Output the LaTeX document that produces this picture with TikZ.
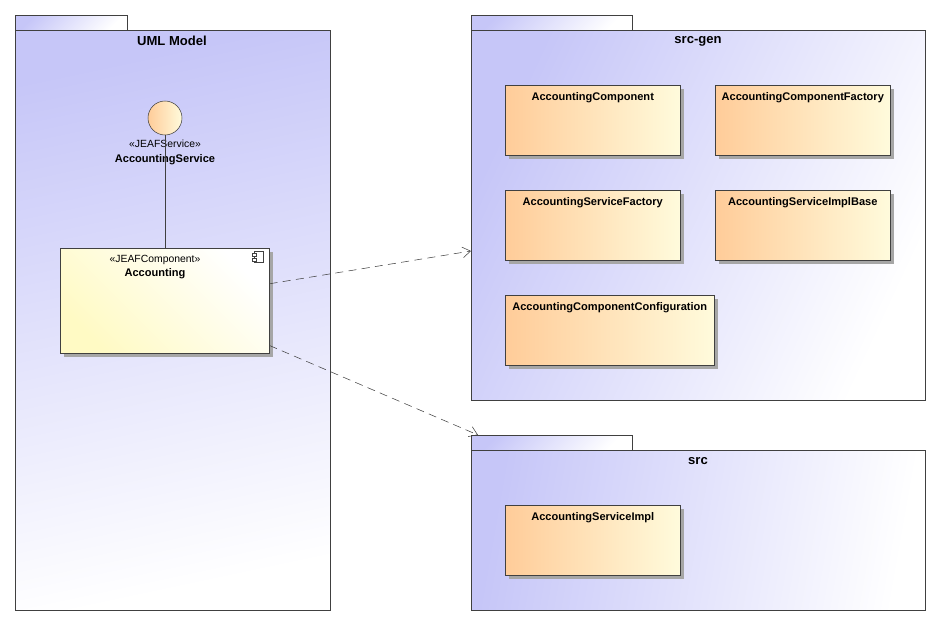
\documentclass[tikz,border=0pt]{standalone}
\usepackage{fontspec}
\setmainfont{Liberation Sans}
\usepackage{xcolor}
\usetikzlibrary{positioning,arrows.meta,shadows}
\definecolor{pkgblue}{HTML}{C6C6F8}
\definecolor{clsorange}{HTML}{FFCC99}
\definecolor{clsyellow}{HTML}{FFFBDC}
\definecolor{cmpyellow}{HTML}{FFFAC4}
\definecolor{edge}{HTML}{404040}
\tikzset{
  pkg/.style={draw=edge, anchor=north west, inner sep=0pt, top color=pkgblue, bottom color=white, shading angle=#1},
  pkg/.default=45,
  cls/.style={draw=edge, anchor=north west, inner sep=0pt, left color=clsorange, right color=clsyellow,
    drop shadow={shadow xshift=2.5pt, shadow yshift=-2.5pt, fill=gray!70, opacity=1}},
  clsname/.style={font=\bfseries\fontsize{8.3}{10}\selectfont, below=2pt of #1.north},
  title/.style={font=\bfseries\fontsize{9.8}{11}\selectfont},
  dep/.style={draw=edge, dashed, dash pattern=on 6pt off 4pt, -{Straight Barb[length=6pt,width=8pt]}},
}
\begin{document}
\begin{tikzpicture}[x=0.75pt, y=-0.75pt]
\useasboundingbox (0,0) rectangle (940,625);
% packages
\node[pkg, minimum width=112*0.75pt, minimum height=15*0.75pt] (tabUml) at (15,15) {};
\node[pkg=12, minimum width=315*0.75pt, minimum height=580*0.75pt] (pkgUml) at (15,30) {};
\node[title] at (172,41) {UML Model};
\node[pkg, minimum width=161*0.75pt, minimum height=15*0.75pt] (tabGen) at (471,15) {};
\node[pkg=65, minimum width=454*0.75pt, minimum height=370*0.75pt] (pkgGen) at (471,30) {};
\node[title] at (698,41) {src-gen};
\node[pkg, minimum width=161*0.75pt, minimum height=15*0.75pt] (tabSrc) at (471,435) {};
\node[pkg=80, minimum width=454*0.75pt, minimum height=160*0.75pt] (pkgSrc) at (471,450) {};
\node[title] at (698,461) {src};

% interface and component
\node[draw=edge, circle, left color=clsorange, right color=clsyellow, minimum size=34*0.75pt, inner sep=0pt] (svc) at (165,118) {};
\node[font=\fontsize{7.8}{9}\selectfont] (svcSt) at (165,144) {«JEAFService»};
\node[font=\bfseries\fontsize{8.3}{10}\selectfont] (svcName) at (165,160) {AccountingService};
\node[draw=edge, anchor=north west, inner sep=0pt, left color=cmpyellow, right color=white, shading angle=135,
  minimum width=209*0.75pt, minimum height=105*0.75pt,
  drop shadow={shadow xshift=2.5pt, shadow yshift=-2.5pt, fill=gray!70, opacity=1}] (comp) at (60,248) {};
\node[font=\fontsize{7.8}{9}\selectfont] at (155,260) {«JEAFComponent»};
\node[font=\bfseries\fontsize{8.3}{10}\selectfont] at (155,274) {Accounting};
\draw[edge, fill=white] (254,251) rectangle (263,262);
\draw[edge, fill=white] (252,253) rectangle (256,256);
\draw[edge, fill=white] (252,258) rectangle (256,261);
\draw[edge] (svc.south) -- (comp.north -| svc.south);

% classes
\node[cls, minimum width=175*0.75pt, minimum height=70*0.75pt] (cComp) at (505,85) {};
\node[clsname=cComp] {AccountingComponent};
\node[cls, minimum width=175*0.75pt, minimum height=70*0.75pt] (cFact) at (715,85) {};
\node[clsname=cFact] {AccountingComponentFactory};
\node[cls, minimum width=175*0.75pt, minimum height=70*0.75pt] (cSvcFact) at (505,190) {};
\node[clsname=cSvcFact] {AccountingServiceFactory};
\node[cls, minimum width=175*0.75pt, minimum height=70*0.75pt] (cBase) at (715,190) {};
\node[clsname=cBase] {AccountingServiceImplBase};
\node[cls, minimum width=209*0.75pt, minimum height=70*0.75pt] (cConf) at (505,295) {};
\node[clsname=cConf] {AccountingComponentConfiguration};
\node[cls, minimum width=175*0.75pt, minimum height=70*0.75pt] (cImpl) at (505,505) {};
\node[clsname=cImpl] {AccountingServiceImpl};

% dependencies
\coordinate (genIn) at (471,251);
\coordinate (srcIn) at (478,435);
\draw[dep] (comp) -- (genIn);
\draw[dep] (comp) -- (srcIn);
\end{tikzpicture}
\end{document}
